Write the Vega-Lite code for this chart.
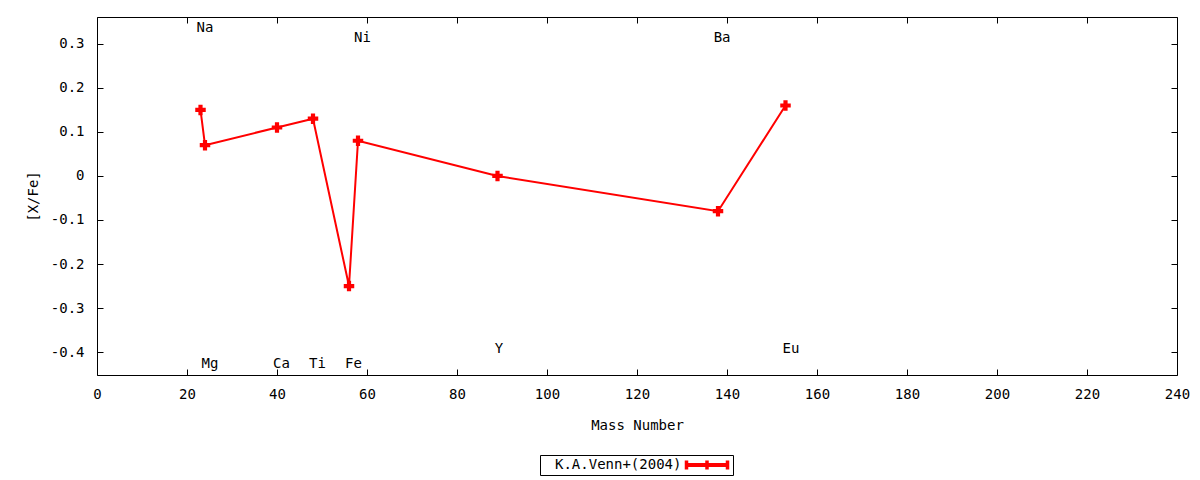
{
  "$schema": "https://vega.github.io/schema/vega-lite/v6.json",
  "width": 1080,
  "height": 358,
  "autosize": {"type": "none"},
  "padding": {"left": 97, "top": 17, "right": 23, "bottom": 105},
  "config": {
    "font": "DejaVu Sans Mono",
    "view": {"stroke": "black", "strokeWidth": 1},
    "axis": {
      "domain": false, "grid": false, "tickColor": "black", "tickSize": -6, "tickWidth": 1,
      "labelFont": "DejaVu Sans Mono", "labelFontSize": 14, "labelColor": "black", "labelFlush": false, "labelOverlap": false,
      "titleFont": "DejaVu Sans Mono", "titleFontSize": 14, "titleFontWeight": "normal", "titleColor": "black"
    },
    "locale": {"number": {"decimal": ".", "thousands": ",", "grouping": [3], "currency": ["$", ""], "minus": "-"}}
  },
  "datasets": {
    "venn": [
      {"el": "Na", "A": 23, "xfe": 0.15, "lx": 24.0, "ly": 0.336},
      {"el": "Mg", "A": 24, "xfe": 0.07, "lx": 25.1, "ly": -0.426},
      {"el": "Ca", "A": 40, "xfe": 0.11, "lx": 41.0, "ly": -0.426},
      {"el": "Ti", "A": 48, "xfe": 0.13, "lx": 49.0, "ly": -0.426},
      {"el": "Fe", "A": 56, "xfe": -0.25, "lx": 57.0, "ly": -0.426},
      {"el": "Ni", "A": 58, "xfe": 0.08, "lx": 59.0, "ly": 0.314},
      {"el": "Y", "A": 89, "xfe": 0.0, "lx": 89.3, "ly": -0.393},
      {"el": "Ba", "A": 138, "xfe": -0.08, "lx": 138.9, "ly": 0.314},
      {"el": "Eu", "A": 153, "xfe": 0.16, "lx": 154.2, "ly": -0.393}
    ]
  },
  "layer": [
    {
      "data": {"name": "venn"},
      "mark": {"type": "line", "color": "#ff0000", "strokeWidth": 2},
      "encoding": {
        "x": {"field": "A", "type": "quantitative", "scale": {"domain": [0, 240], "nice": false, "zero": false},
              "axis": {"title": "Mass Number", "values": [0,20,40,60,80,100,120,140,160,180,200,220,240], "labelPadding": 18, "titlePadding": 17}},
        "y": {"field": "xfe", "type": "quantitative", "scale": {"domain": [-0.452, 0.361], "nice": false, "zero": false},
              "axis": {"title": "[X/Fe]", "values": [-0.4,-0.3,-0.2,-0.1,0,0.1,0.2,0.3], "format": ".1~f", "labelPadding": 19, "titlePadding": 10}}
      }
    },
    {
      "data": {"name": "venn"},
      "mark": {"type": "point", "shape": "cross", "filled": true, "size": 110, "opacity": 1},
      "encoding": {
        "x": {"field": "A", "type": "quantitative", "scale": {"domain": [0, 240], "nice": false, "zero": false},
              "axis": {"orient": "top", "labels": false, "title": null, "values": [0,20,40,60,80,100,120,140,160,180,200,220,240]}},
        "y": {"field": "xfe", "type": "quantitative", "scale": {"domain": [-0.452, 0.361], "nice": false, "zero": false},
              "axis": {"orient": "right", "labels": false, "title": null, "values": [-0.4,-0.3,-0.2,-0.1,0,0.1,0.2,0.3]}},
        "color": {
          "datum": "K.A.Venn+(2004)",
          "scale": {"range": ["#ff0000"]},
          "legend": {
            "title": null, "orient": "none", "legendX": 443, "legendY": 438,
            "strokeColor": "black", "padding": 3,
            "symbolType": "M-1,0 M27,-0.4H35.8V0.4H27Z M26.95,-0.9H27.65V0.9H26.95Z M31.05,-0.9H31.75V0.9H31.05Z M35.15,-0.9H35.85V0.9H35.15Z",
            "symbolSize": 100, "symbolStrokeWidth": 0, "symbolOpacity": 1,
            "labelFont": "DejaVu Sans Mono", "labelFontSize": 14, "labelColor": "black",
            "labelAlign": "left", "labelOffset": -2
          }
        }
      }
    },
    {
      "data": {"name": "venn"},
      "mark": {"type": "text", "font": "DejaVu Sans Mono", "fontSize": 14, "color": "black", "align": "center", "baseline": "middle"},
      "encoding": {
        "x": {"field": "lx", "type": "quantitative", "scale": {"domain": [0, 240], "nice": false, "zero": false}, "axis": null},
        "y": {"field": "ly", "type": "quantitative", "scale": {"domain": [-0.452, 0.361], "nice": false, "zero": false}, "axis": null},
        "text": {"field": "el"}
      }
    }
  ],
  "resolve": {"axis": {"x": "independent", "y": "independent"}}
}
